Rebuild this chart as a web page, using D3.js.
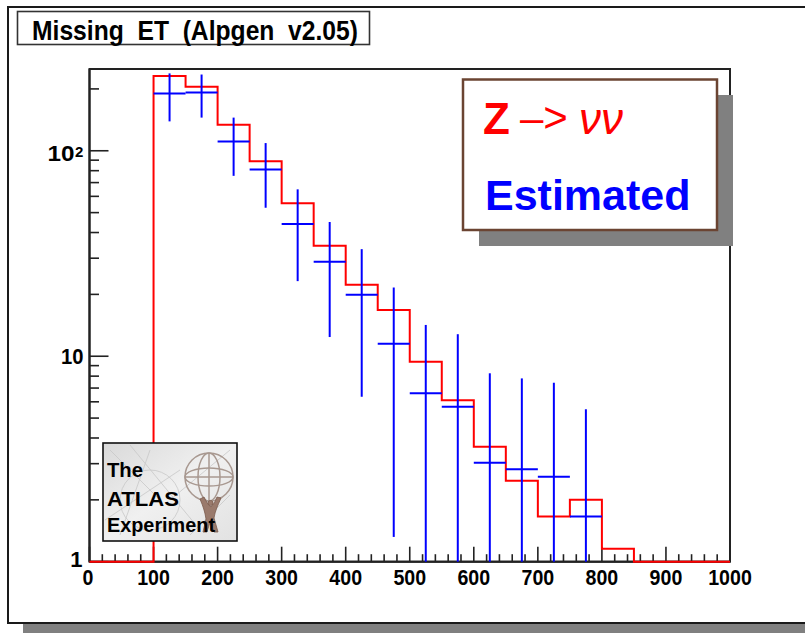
<!DOCTYPE html>
<html>
<head>
<meta charset="utf-8">
<script src="https://cdn.jsdelivr.net/npm/d3@7"></script>
<style>
  html, body { margin: 0; padding: 0; background: #fff; }
  svg { display: block; }
  text { font-family: "Liberation Sans", Arial, Helvetica, sans-serif; }
</style>
</head>
<body>
<svg id="chart" width="805" height="633"></svg>
<script>
// ---------------- data ----------------
const title = "Missing  ET  (Alpgen  v2.05)";
const binEdges = [0,50,100,150,200,250,300,350,400,450,500,550,600,650,700,750,800,850,900,950];
const binWidth = 50;
// Z -> nu nu (red histogram), contents per bin
const zNuNu = [0,0,231,205,134,89,55.5,34.5,22.3,16.8,9.4,6.1,3.63,2.48,1.66,2.0,1.157,0,0,0];
// Estimated (blue points with error bars)
const estCenters = [125,175,225,275,325,375,425,475,525,575,625,675,725,775];
const estValues  = [190,192,111,81,44,28.8,19.9,11.5,6.6,5.68,3.03,2.82,2.59,1.66];
const estUpper   = [238,235,145,109,64.9,45,33.2,21.6,14.2,12.8,8.26,7.8,7.43,5.52];
const estLower   = [139,145,75.5,52.8,23.2,12.4,6.35,1.32,0,0,0,0,0,0];
const xTickLabels = [0,100,200,300,400,500,600,700,800,900,1000];
const yMajor = [1,10,100];
const legendLabels = ["Z", "\u2013>", "\u03bd\u03bd", "Estimated"];
const logoLines = ["The", "ATLAS", "Experiment"];

// ---------------- layout ----------------
const svg = d3.select("#chart");
const X0 = 89.5, X1 = 730, Y0 = 561.7, Y1 = 69;
const x = d3.scaleLinear().domain([0, 1000]).range([X0, X1]);
const y = d3.scaleLog().domain([1, 250]).range([Y0, Y1]);
const yc = v => y(Math.max(v, 1));

// outer canvas frame with shadow
svg.append("rect").attr("x", 23).attr("y", 22).attr("width", 820).attr("height", 616).attr("fill", "#808080");
svg.append("rect").attr("x", 8).attr("y", 7).attr("width", 820).attr("height", 616)
  .attr("fill", "#fff").attr("stroke", "#1a1a1a").attr("stroke-width", 2);

// title box
svg.append("rect").attr("x", 17.5).attr("y", 11.5).attr("width", 352).attr("height", 33)
  .attr("fill", "#fff").attr("stroke", "#333").attr("stroke-width", 1.6);
svg.append("text").attr("x", 32).attr("y", 39.5)
  .attr("font-size", 27).attr("font-weight", "bold").attr("fill", "#000")
  .style("white-space", "pre")
  .attr("textLength", 326).attr("lengthAdjust", "spacingAndGlyphs")
  .text(title);

// plot frame
svg.append("rect").attr("x", X0).attr("y", Y1).attr("width", X1 - X0).attr("height", Y0 - Y1)
  .attr("fill", "#fff").attr("stroke", "#222").attr("stroke-width", 2);

// ---------------- histogram (red) ----------------
const stepPts = binEdges.map((e, i) => [e, zNuNu[i]]);
stepPts.push([1000, zNuNu[zNuNu.length - 1]]);
const line = d3.line().x(d => x(d[0])).y(d => yc(d[1])).curve(d3.curveStepAfter);

// ---------------- axes ----------------
const ax = svg.append("g").attr("stroke", "#222");
const xMinor = d3.range(0, 1001, 20);
xMinor.forEach(v => {
  const major = v % 100 === 0;
  ax.append("line").attr("x1", x(v)).attr("x2", x(v))
    .attr("y1", Y0).attr("y2", Y0 - (major ? 15 : 7.5)).attr("stroke-width", 1.6);
});
const yTicks = [];
[1, 10, 100].forEach(d => { for (let k = 1; k <= 9; k++) { const v = d * k; if (v <= 250) yTicks.push(v); } });
yTicks.forEach(v => {
  const major = yMajor.includes(v);
  ax.append("line").attr("x1", X0).attr("x2", X0 + (major ? 19 : 9.5))
    .attr("y1", y(v)).attr("y2", y(v)).attr("stroke-width", 1.6);
});
svg.append("line").attr("x1", X0).attr("x2", X1).attr("y1", Y0).attr("y2", Y0).attr("stroke", "#222").attr("stroke-width", 2);
svg.append("line").attr("x1", X0).attr("x2", X0).attr("y1", Y0).attr("y2", Y1).attr("stroke", "#222").attr("stroke-width", 2);

svg.append("path").attr("d", line(stepPts)).attr("fill", "none")
  .attr("stroke", "#ff0000").attr("stroke-width", 2);

// ---------------- estimated (blue) ----------------
const g = svg.append("g").attr("stroke", "#0000ff").attr("stroke-width", 2);
estCenters.forEach((c, i) => {
  g.append("line").attr("x1", x(c - binWidth / 2)).attr("x2", x(c + binWidth / 2))
    .attr("y1", yc(estValues[i])).attr("y2", yc(estValues[i]));
  g.append("line").attr("x1", x(c)).attr("x2", x(c))
    .attr("y1", yc(estLower[i])).attr("y2", yc(estUpper[i]));
});

// x labels
svg.append("g").selectAll("text").data(xTickLabels).join("text")
  .attr("x", d => x(d) - (d === 0 ? 1.5 : 0)).attr("y", 585)
  .attr("text-anchor", "middle").attr("font-size", 22).attr("font-weight", "bold").attr("fill", "#000")
  .attr("textLength", d => String(d).length * 10.9).attr("lengthAdjust", "spacingAndGlyphs")
  .text(d => d);
// y labels
svg.append("text").attr("x", 82.5).attr("y", 567).attr("text-anchor", "end")
  .attr("font-size", 22).attr("font-weight", "bold").text("1");
svg.append("text").attr("x", 83.5).attr("y", y(10) + 8).attr("text-anchor", "end")
  .attr("font-size", 22).attr("font-weight", "bold")
  .attr("textLength", 22.5).attr("lengthAdjust", "spacingAndGlyphs").text("10");
svg.append("text").attr("x", 74.5).attr("y", y(100) + 10).attr("text-anchor", "end")
  .attr("font-size", 22).attr("font-weight", "bold")
  .attr("textLength", 27).attr("lengthAdjust", "spacingAndGlyphs").text("10");
svg.append("text").attr("x", 75).attr("y", y(100) + 6.5)
  .attr("font-size", 15).attr("font-weight", "bold").text("2");

// ---------------- legend ----------------
svg.append("rect").attr("x", 479).attr("y", 95).attr("width", 254).attr("height", 151).attr("fill", "#808080");
svg.append("rect").attr("x", 463).attr("y", 79.5).attr("width", 254).attr("height", 150.5)
  .attr("fill", "#fff").attr("stroke", "#6b4432").attr("stroke-width", 2.5);
svg.append("text").attr("x", 483).attr("y", 133.5).attr("font-size", 44).attr("font-weight", "bold")
  .attr("fill", "#ff0000").text(legendLabels[0]);
svg.append("text").attr("x", 520).attr("y", 132).attr("font-size", 42)
  .attr("fill", "#ff0000").text(legendLabels[1]);
svg.append("text").attr("x", 579).attr("y", 133.5).attr("font-size", 44).attr("font-style", "italic")
  .attr("font-family", "'Liberation Serif', 'Times New Roman', serif")
  .attr("fill", "#ff0000").text(legendLabels[2]);
svg.append("text").attr("x", 485).attr("y", 209.5).attr("font-size", 43).attr("font-weight", "bold")
  .attr("fill", "#0000ff").text(legendLabels[3]);

// ---------------- ATLAS logo ----------------
const lg = svg.append("g");
const defs = svg.append("defs");
const grad = defs.append("linearGradient").attr("id", "lgbg").attr("x1", 0).attr("y1", 0).attr("x2", 1).attr("y2", 1);
grad.append("stop").attr("offset", "0%").attr("stop-color", "#d9d9d9");
grad.append("stop").attr("offset", "50%").attr("stop-color", "#f0f0f0");
grad.append("stop").attr("offset", "100%").attr("stop-color", "#e2e2e2");
lg.append("rect").attr("x", 103).attr("y", 443).attr("width", 134).attr("height", 98)
  .attr("fill", "url(#lgbg)").attr("stroke", "#111").attr("stroke-width", 1.6);
const tex = lg.append("g").attr("stroke", "#c8c8c8").attr("stroke-width", 0.8).attr("fill", "none");
[[110,450,160,500],[130,445,200,530],[150,450,120,535],[170,500,230,450],[105,520,180,470],[190,535,230,495]].forEach(s => {
  tex.append("line").attr("x1", s[0]).attr("y1", s[1]).attr("x2", s[2]).attr("y2", s[3]);
});
tex.append("circle").attr("cx", 150).attr("cy", 500).attr("r", 30);
const gl = lg.append("g").attr("fill", "none").attr("stroke", "#a89890").attr("stroke-width", 1.5);
gl.append("circle").attr("cx", 209).attr("cy", 477).attr("r", 24);
gl.append("ellipse").attr("cx", 209).attr("cy", 477).attr("rx", 11).attr("ry", 24);
gl.append("ellipse").attr("cx", 209).attr("cy", 477).attr("rx", 24).attr("ry", 9);
gl.append("line").attr("x1", 185).attr("y1", 477).attr("x2", 233).attr("y2", 477);
gl.append("line").attr("x1", 209).attr("y1", 453).attr("x2", 209).attr("y2", 501);
const fig = lg.append("g").attr("fill", "#9a7a6c").attr("stroke", "#7a5a4c").attr("stroke-width", 0.8);
fig.append("path").attr("d", "M200,499 C203,506 205,512 206,519 L203,532 L207,532 L210,522 L214,532 L218,532 L214,518 C215,511 218,505 221,498 L217,497 C215,502 213,505 211,507 C208,505 206,501 204,497 Z");
fig.append("circle").attr("cx", 210.5).attr("cy", 503).attr("r", 2.6);
lg.selectAll("text.lt").data(logoLines).join("text").attr("class", "lt")
  .attr("x", 107).attr("y", (d, i) => [477, 505.5, 532][i])
  .attr("font-size", 21).attr("font-weight", "bold").attr("fill", "#000")
  .attr("font-family", "'DejaVu Sans', 'Liberation Sans', sans-serif")
  .attr("textLength", (d, i) => [36, 72, 108][i]).attr("lengthAdjust", "spacingAndGlyphs")
  .text(d => d);
</script>
</body>
</html>
